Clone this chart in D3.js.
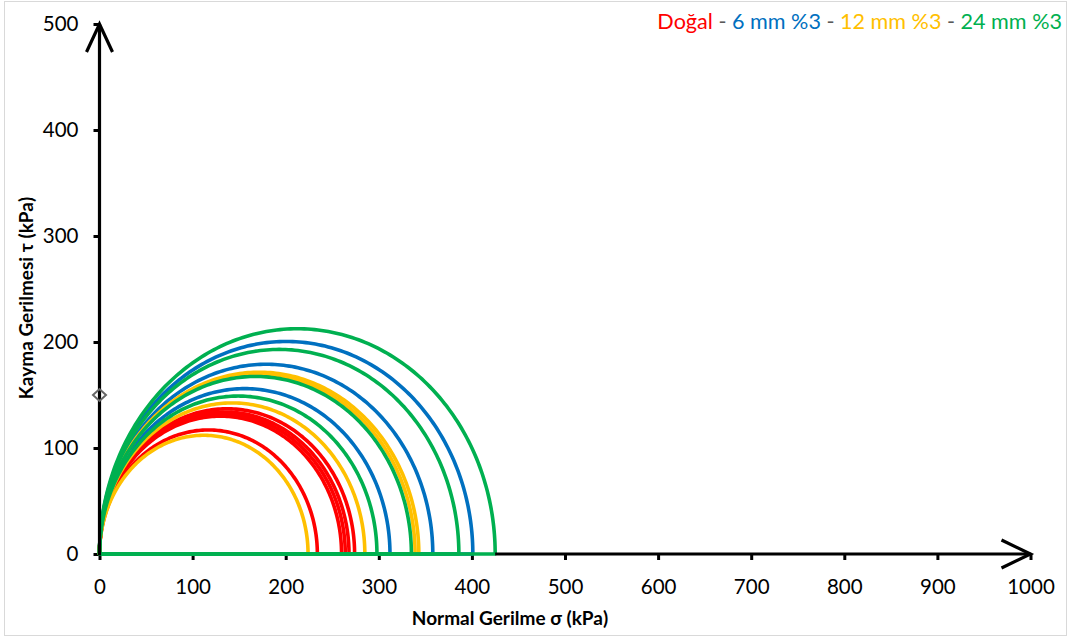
<!DOCTYPE html>
<html>
<head>
<meta charset="utf-8">
<script src="https://cdn.jsdelivr.net/npm/d3@7"></script>
<style>
  html, body { margin: 0; padding: 0; background: #fff; }
  svg { display: block; font-family: Lato, "Open Sans", sans-serif; }
</style>
</head>
<body>
<svg id="chart" width="1068" height="638"></svg>
<script>
// Unconfined compression results: each specimen is a Mohr circle from σ3 = 0 to σ1 (kPa)
const seriesNames = ["Doğal", "6 mm %3", "12 mm %3", "24 mm %3"];
const seriesColors = ["#FF0000", "#0070C0", "#FFC000", "#00B050"];
const dogalSigma1 = [234, 260, 264, 268, 274];
const mm6Sigma1 = [312, 358, 401];
const mm12Sigma1 = [224, 285, 339, 343];
const mm24Sigma1 = [298, 335, 386, 425];
const markerPoint = [0, 150];

const xTicks = [0, 100, 200, 300, 400, 500, 600, 700, 800, 900, 1000];
const yTicks = [0, 100, 200, 300, 400, 500];
const xTitle = "Normal Gerilme σ (kPa)";
const yTitle = "Kayma Gerilmesi τ (kPa)";

const series = [dogalSigma1, mm6Sigma1, mm12Sigma1, mm24Sigma1];

const svg = d3.select("#chart");

// chart area border
svg.append("rect")
  .attr("x", 4.5).attr("y", 1.5)
  .attr("width", 1062).attr("height", 634)
  .attr("fill", "none").attr("stroke", "#d9d9d9").attr("stroke-width", 1);

const x = d3.scaleLinear().domain([0, 1000]).range([99.5, 1030.5]);
const y = d3.scaleLinear().domain([0, 500]).range([554, 24]);

// tick marks and labels
const xAxis = svg.append("g")
  .attr("transform", `translate(0,${y(0)})`)
  .call(d3.axisBottom(x).tickValues(xTicks).tickSize(6).tickPadding(19).tickFormat(d3.format("d")));
const yAxis = svg.append("g")
  .attr("transform", `translate(${x(0)},0)`)
  .call(d3.axisLeft(y).tickValues(yTicks).tickSize(6).tickPadding(15).tickFormat(d3.format("d")));

[xAxis, yAxis].forEach(g => {
  g.select(".domain").remove();
  g.selectAll(".tick line").attr("stroke", "#000").attr("stroke-width", 3);
  g.selectAll(".tick text")
    .attr("fill", "#000")
    .style("font-size", "20.5px")
    .style("font-family", "Lato, sans-serif");
});

// Mohr circles (upper half), closed along the σ axis
const semicircle = d3.line().x(d => x(d[0])).y(d => y(d[1]));
function circlePoints(s1) {
  const c = s1 / 2, r = s1 / 2;
  return d3.range(0, 181).map(a => {
    const t = Math.PI - a * Math.PI / 180;
    return [c + r * Math.cos(t), r * Math.sin(t)];
  });
}

const plot = svg.append("g");
series.forEach((vals, i) => {
  plot.selectAll(null)
    .data(vals)
    .enter().append("path")
    .attr("d", d => semicircle(circlePoints(d)) + "Z")
    .attr("fill", "none")
    .attr("stroke", seriesColors[i])
    .attr("stroke-width", 3.6)
    .attr("stroke-linejoin", "round");
});

// axis lines with open arrowheads
const axes = svg.append("g")
  .attr("fill", "none").attr("stroke", "#000").attr("stroke-width", 3.2);
axes.append("line")
  .attr("x1", x(0)).attr("y1", y(0) + 1.5)
  .attr("x2", x(0)).attr("y2", y(500));
axes.append("polyline")
  .attr("points", [[x(0) - 13, y(500) + 28], [x(0), y(500)], [x(0) + 13, y(500) + 28]].join(" "));
axes.append("line")
  .attr("x1", x(425)).attr("y1", y(0))
  .attr("x2", x(1000)).attr("y2", y(0));
axes.append("polyline")
  .attr("points", [[x(1000) - 29, y(0) - 14], [x(1000), y(0)], [x(1000) - 29, y(0) + 14]].join(" "));

// hollow diamond marker on the τ axis
const mx = x(markerPoint[0]), my = y(markerPoint[1]);
svg.append("path")
  .attr("d", `M${mx - 6.5},${my}L${mx},${my - 6}L${mx + 6.5},${my}L${mx},${my + 6}Z`)
  .attr("fill", "none").attr("stroke", "#666").attr("stroke-width", 2);

// axis titles
svg.append("text")
  .attr("x", 510).attr("y", 625)
  .attr("text-anchor", "middle")
  .style("font-size", "19px").style("font-weight", "bold")
  .text(xTitle);
svg.append("text")
  .attr("transform", `translate(33,298) rotate(-90)`)
  .attr("text-anchor", "middle")
  .style("font-size", "19px").style("font-weight", "bold")
  .text(yTitle);

// coloured legend line
const legend = svg.append("text")
  .attr("x", 1062).attr("y", 29)
  .attr("text-anchor", "end")
  .style("font-size", "21.6px");
seriesNames.forEach((name, i) => {
  if (i > 0) legend.append("tspan").attr("fill", "#595959").text(" - ");
  legend.append("tspan").attr("fill", seriesColors[i]).text(name);
});
</script>
</body>
</html>
